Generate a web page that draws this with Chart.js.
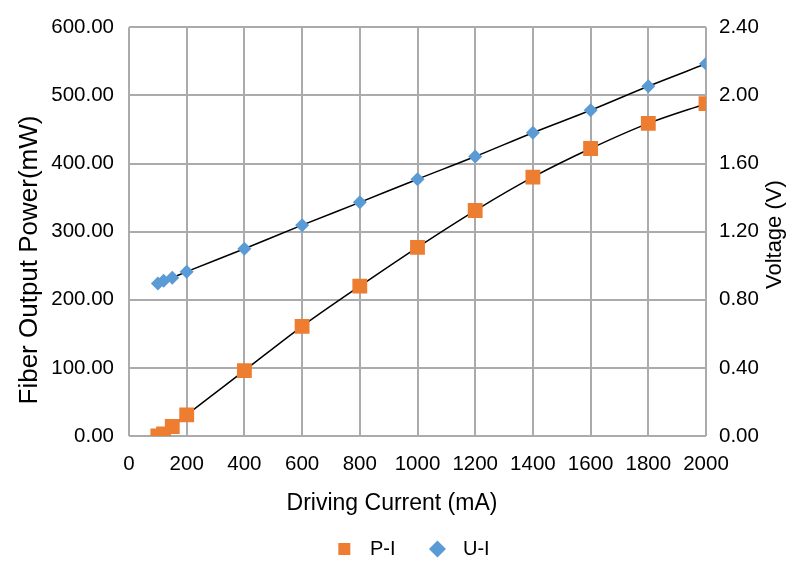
<!DOCTYPE html>
<html>
<head>
<meta charset="utf-8">
<script src="https://cdn.jsdelivr.net/npm/chart.js@4"></script>
<style>
  html, body { margin: 0; padding: 0; background: #fff; }
  #wrap { width: 800px; height: 579px; }
</style>
</head>
<body>
<div id="wrap"><canvas id="myChart"></canvas></div>
<script>
// values
const currentMA = [100, 120, 150, 200, 400, 600, 800, 1000, 1200, 1400, 1600, 1800, 2000];
const powerMW = [0, 3, 14, 31, 96, 161, 220, 277, 331, 380, 422, 459, 488];
const voltageV = [0.895, 0.911, 0.93, 0.965, 1.10, 1.238, 1.372, 1.508, 1.641, 1.781, 1.913, 2.054, 2.186];
const seriesNames = ['P-I', 'U-I'];
const markerColors = ['#ED7D31', '#5B9BD5'];
const xTitle = 'Driving Current (mA)';
const yTitle = 'Fiber Output Power(mW)';
const y1Title = 'Voltage (V)';

const ctx = document.getElementById('myChart');
const font = "Arial, 'Liberation Sans', sans-serif";
const GRID = '#ababab';
const TICK_FONT = { family: font, size: 20.5 };

const toPoints = (ys) => currentMA.map((x, i) => ({ x: x, y: ys[i] }));

// axis titles drawn by hand: Chart.js turns a right-hand title the other way
const axisTitles = {
  id: 'axisTitles',
  afterDraw(chart) {
    const c = chart.ctx;
    const area = chart.chartArea;
    c.save();
    c.fillStyle = '#000';
    c.textAlign = 'center';
    c.textBaseline = 'middle';
    c.font = `23px ${font}`;
    c.fillText(xTitle, 392, area.bottom + 68);
    c.translate(30, 260);
    c.rotate(-Math.PI / 2);
    c.font = `26px ${font}`;
    c.fillText(yTitle, 0, 0);
    c.restore();
    c.save();
    c.fillStyle = '#000';
    c.textAlign = 'center';
    c.textBaseline = 'middle';
    c.font = `22px ${font}`;
    c.translate(775, (area.top + area.bottom) / 2 + 3);
    c.rotate(-Math.PI / 2);
    c.fillText(y1Title, 0, 0);
    c.restore();
  }
};

const data = {
  datasets: [{
    label: seriesNames[0],
    data: toPoints(powerMW),
    yAxisID: 'y',
    borderColor: '#000',
    borderWidth: 1.5,
    backgroundColor: markerColors[0],
    pointStyle: 'rect',
    pointRadius: 10.5,
    pointBackgroundColor: markerColors[0],
    pointBorderColor: markerColors[0],
    pointBorderWidth: 0,
    cubicInterpolationMode: 'monotone'
  }, {
    label: seriesNames[1],
    data: toPoints(voltageV),
    yAxisID: 'y1',
    borderColor: '#000',
    borderWidth: 1.5,
    backgroundColor: markerColors[1],
    pointStyle: 'rectRot',
    pointRadius: 7,
    pointBackgroundColor: markerColors[1],
    pointBorderColor: markerColors[1],
    pointBorderWidth: 0,
    cubicInterpolationMode: 'monotone'
  }]
};

const config = {
  type: 'line',
  data: data,
  plugins: [axisTitles],
  options: {
    responsive: true,
    maintainAspectRatio: false,
    animation: false,
    layout: { padding: { left: 24, right: 0, top: 25, bottom: 10 } },
    plugins: {
      tooltip: { enabled: false },
      legend: {
        position: 'bottom',
        labels: {
          usePointStyle: true,
          boxWidth: 20,
          boxHeight: 12,
          padding: 32,
          color: '#000',
          font: { family: font, size: 20 },
          generateLabels(chart) {
            const items = Chart.defaults.plugins.legend.labels.generateLabels(chart);
            items.forEach((it, i) => {
              it.text = ' ' + it.text;
              it.fillStyle = markerColors[i];
              it.strokeStyle = markerColors[i];
              it.lineWidth = 0;
            });
            return items;
          }
        }
      }
    },
    scales: {
      x: {
        type: 'linear',
        min: 0,
        max: 2000,
        afterFit: (scale) => { scale.height = 71; },
        ticks: { stepSize: 200, color: '#000', padding: 16, font: TICK_FONT, callback: (v) => String(v) },
        grid: { color: GRID, lineWidth: 2, drawTicks: false },
        border: { display: false }
      },
      y: {
        position: 'left',
        min: 0,
        max: 600,
        afterFit: (scale) => { scale.width = 105; },
        ticks: { stepSize: 100, color: '#000', padding: 15, font: TICK_FONT, callback: (v) => v.toFixed(2) },
        grid: { color: GRID, lineWidth: 2, drawTicks: false },
        border: { display: false }
      },
      y1: {
        position: 'right',
        min: 0,
        max: 2.4,
        afterFit: (scale) => { scale.width = 94; },
        ticks: { stepSize: 0.4, color: '#000', padding: 13, font: TICK_FONT, callback: (v) => v.toFixed(2) },
        grid: { display: false, drawTicks: false },
        border: { display: false }
      }
    }
  }
};

const lineChart = new Chart(ctx, config);
</script>
</body>
</html>
